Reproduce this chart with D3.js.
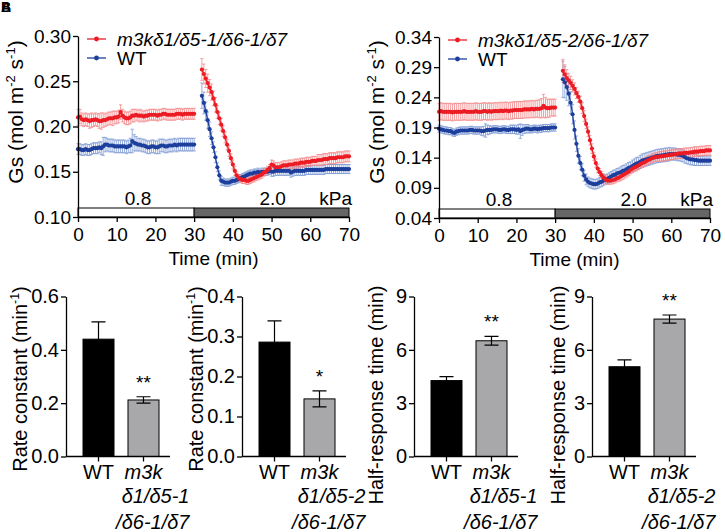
<!DOCTYPE html>
<html><head><meta charset="utf-8">
<script src="https://cdn.jsdelivr.net/npm/d3@7"></script>
<style>
body{margin:0;background:#fff;}
svg text{font-family:"Liberation Sans",Arial,Helvetica,sans-serif;fill:#000;}
</style></head>
<body><svg id="chart" width="725" height="532"></svg>
<script>
// ---------------- DATA ----------------
// sampling times (min): VPD 0.8 kPa phase and VPD 2.0 kPa phase (every 0.5 min)
const timesPre  = d3.range(0, 30.001, 0.5);   // 61 samples
const timesPost = d3.range(32, 70.001, 0.5);  // 77 samples
const timeTicks = [0, 10, 20, 30, 40, 50, 60, 70];
const kPaLabels = ["0.8", "2.0", "kPa"];

// Panel A (m3kδ1/δ5-1/δ6-1/δ7 vs WT), Gs in mol m-2 s-1
const A_mutPre = [
 0.210,0.211,0.208,0.207,0.208,0.207,0.206,0.207,0.207,0.208,
 0.207,0.206,0.206,0.207,0.207,0.208,0.209,0.209,0.209,0.210,
 0.210,0.211,0.216,0.212,0.210,0.209,0.209,0.210,0.212,0.212,
 0.213,0.212,0.212,0.212,0.211,0.212,0.212,0.213,0.213,0.213,
 0.213,0.212,0.213,0.213,0.214,0.214,0.213,0.213,0.213,0.213,
 0.213,0.214,0.214,0.214,0.213,0.214,0.214,0.214,0.214,0.214,
 0.214];
const A_mutPreErr = [
 .009,.008,.007,.007,.007,.007,.008,.008,.007,.007,
 .007,.008,.009,.008,.007,.007,.007,.007,.008,.007,
 .007,.007,.008,.007,.007,.007,.007,.007,.007,.007,
 .006,.006,.007,.006,.006,.006,.006,.006,.006,.006,
 .006,.006,.006,.006,.006,.006,.006,.006,.006,.006,
 .006,.006,.006,.006,.006,.006,.006,.006,.006,.006,
 .006];
const A_wtPre = [
 0.175,0.175,0.174,0.174,0.175,0.174,0.174,0.175,0.176,0.176,
 0.176,0.177,0.176,0.178,0.180,0.180,0.179,0.179,0.179,0.178,
 0.178,0.178,0.178,0.178,0.178,0.177,0.178,0.179,0.184,0.182,
 0.181,0.180,0.180,0.179,0.179,0.178,0.177,0.177,0.178,0.178,
 0.177,0.177,0.178,0.179,0.179,0.178,0.178,0.179,0.179,0.179,
 0.180,0.179,0.180,0.180,0.180,0.180,0.180,0.180,0.180,0.180,
 0.180];
const A_wtPreErr = [
 .006,.006,.006,.006,.006,.006,.006,.006,.006,.006,
 .006,.006,.007,.010,.008,.007,.007,.007,.007,.007,
 .007,.007,.007,.007,.007,.007,.007,.008,.013,.009,
 .008,.007,.007,.007,.007,.007,.007,.007,.007,.007,
 .007,.007,.008,.007,.007,.007,.007,.007,.007,.007,
 .007,.007,.007,.007,.007,.007,.007,.007,.007,.007,
 .007];
const A_mutPost = [
 0.263,0.258,0.253,0.248,0.243,0.238,0.231,0.224,0.216,0.209,
 0.202,0.195,0.188,0.180,0.173,0.165,0.158,0.151,0.146,0.143,
 0.142,0.141,0.141,0.140,0.140,0.141,0.142,0.143,0.144,0.145,
 0.146,0.147,0.149,0.150,0.152,0.154,0.158,0.157,0.155,0.155,
 0.155,0.156,0.157,0.157,0.157,0.158,0.158,0.158,0.159,0.159,
 0.159,0.160,0.160,0.160,0.161,0.161,0.161,0.162,0.162,0.162,
 0.163,0.163,0.163,0.164,0.164,0.164,0.165,0.165,0.165,0.165,
 0.166,0.166,0.166,0.166,0.167,0.167,
 0.167];
const A_mutPostErr = [
 .012,.011,.010,.010,.009,.009,.008,.008,.007,.007,
 .007,.006,.006,.006,.006,.005,.005,.005,.004,.004,
 .004,.004,.004,.004,.004,.004,.004,.004,.004,.004,
 .004,.004,.004,.004,.004,.004,.005,.005,.005,.005,
 .005,.005,.005,.005,.005,.005,.005,.005,.005,.005,
 .005,.005,.005,.005,.005,.005,.005,.005,.005,.005,
 .006,.006,.006,.006,.006,.006,.006,.006,.006,.006,
 .006,.006,.006,.006,.006,.006,
 .006];
const A_wtPost = [
 0.234,0.226,0.217,0.207,0.197,0.187,0.177,0.166,0.155,0.146,
 0.140,0.139,0.138,0.138,0.138,0.139,0.140,0.140,0.141,0.142,
 0.143,0.144,0.145,0.146,0.147,0.148,0.148,0.149,0.149,0.150,
 0.149,0.150,0.150,0.150,0.150,0.151,0.150,0.150,0.151,0.151,
 0.151,0.151,0.151,0.151,0.151,0.151,0.149,0.150,0.151,0.151,
 0.151,0.151,0.151,0.151,0.152,0.152,0.152,0.152,0.152,0.152,
 0.152,0.152,0.152,0.152,0.153,0.153,0.153,0.153,0.153,0.153,
 0.153,0.153,0.153,0.153,0.153,0.153,
 0.153];
const A_wtPostErr = [
 .014,.012,.010,.009,.008,.007,.006,.006,.005,.005,
 .005,.004,.004,.004,.004,.004,.004,.004,.004,.004,
 .004,.004,.004,.004,.004,.004,.004,.004,.004,.004,
 .004,.004,.004,.004,.004,.004,.005,.005,.005,.005,
 .005,.005,.005,.005,.005,.005,.005,.005,.005,.005,
 .005,.005,.005,.005,.005,.005,.005,.005,.005,.005,
 .005,.005,.005,.005,.005,.005,.005,.005,.005,.005,
 .005,.005,.005,.005,.005,.005,
 .005];

// Panel B (m3kδ1/δ5-2/δ6-1/δ7 vs WT)
const B_mutPre = [
 0.216,0.217,0.216,0.216,0.216,0.216,0.216,0.215,0.216,0.216,
 0.216,0.216,0.216,0.217,0.216,0.216,0.216,0.216,0.216,0.217,
 0.216,0.216,0.216,0.217,0.217,0.216,0.217,0.216,0.217,0.217,
 0.217,0.217,0.218,0.217,0.218,0.218,0.217,0.218,0.218,0.219,
 0.219,0.219,0.219,0.219,0.220,0.220,0.220,0.220,0.221,0.220,
 0.221,0.221,0.221,0.222,0.226,0.223,0.222,0.222,0.223,0.223,
 0.223];
const B_mutPreErr = [
 .014,.014,.014,.014,.014,.014,.014,.014,.014,.014,
 .014,.014,.014,.014,.014,.014,.014,.014,.014,.014,
 .014,.014,.014,.014,.014,.014,.014,.014,.014,.014,
 .014,.014,.014,.014,.014,.014,.014,.014,.014,.014,
 .014,.014,.014,.014,.014,.014,.014,.014,.014,.014,
 .014,.014,.015,.016,.019,.017,.015,.015,.014,.014,
 .014];
const B_wtPre = [
 0.188,0.187,0.186,0.185,0.185,0.184,0.184,0.182,0.181,0.183,
 0.184,0.185,0.185,0.185,0.185,0.185,0.186,0.186,0.185,0.185,
 0.185,0.185,0.184,0.184,0.185,0.186,0.186,0.186,0.187,0.187,
 0.187,0.186,0.186,0.187,0.187,0.186,0.186,0.187,0.187,0.187,
 0.186,0.187,0.184,0.186,0.187,0.188,0.188,0.187,0.187,0.188,
 0.188,0.187,0.188,0.188,0.189,0.189,0.189,0.189,0.190,0.190,
 0.190];
const B_wtPreErr = [
 .006,.006,.006,.006,.006,.006,.006,.006,.006,.006,
 .006,.006,.006,.006,.006,.006,.006,.006,.006,.006,
 .006,.006,.007,.008,.011,.008,.007,.006,.006,.006,
 .006,.006,.006,.006,.006,.006,.006,.007,.007,.007,
 .007,.008,.012,.009,.007,.007,.007,.006,.006,.006,
 .006,.006,.006,.006,.006,.006,.006,.006,.006,.006,
 .006];
const B_mutPost = [
 0.284,0.278,0.272,0.268,0.264,0.259,0.254,0.247,0.241,0.233,
 0.222,0.209,0.196,0.183,0.169,0.155,0.142,0.131,0.122,0.116,
 0.111,0.107,0.104,0.102,0.102,0.102,0.103,0.104,0.106,0.107,
 0.109,0.111,0.113,0.115,0.117,0.120,0.122,0.124,0.125,0.127,
 0.129,0.131,0.132,0.134,0.136,0.137,0.139,0.140,0.141,0.141,
 0.142,0.142,0.143,0.143,0.144,0.144,0.145,0.145,0.146,0.146,
 0.147,0.147,0.147,0.148,0.148,0.148,0.149,0.149,0.150,0.150,
 0.150,0.151,0.151,0.151,0.152,0.152,
 0.152];
const B_mutPostErr = [
 .019,.016,.014,.012,.011,.010,.010,.009,.009,.009,
 .009,.009,.008,.008,.008,.008,.007,.007,.007,.006,
 .006,.006,.006,.006,.006,.006,.006,.006,.006,.006,
 .007,.007,.007,.007,.007,.007,.007,.007,.007,.007,
 .007,.007,.007,.007,.007,.007,.007,.007,.007,.007,
 .008,.008,.008,.008,.008,.008,.008,.008,.008,.008,
 .008,.008,.008,.008,.008,.008,.008,.008,.008,.008,
 .008,.008,.008,.008,.008,.008,
 .008];
const B_wtPost = [
 0.270,0.265,0.257,0.246,0.231,0.212,0.186,0.163,0.143,0.131,
 0.120,0.110,0.104,0.100,0.098,0.097,0.096,0.096,0.097,0.099,
 0.100,0.102,0.104,0.105,0.107,0.109,0.111,0.112,0.114,0.115,
 0.116,0.118,0.119,0.121,0.123,0.124,0.126,0.128,0.130,0.131,
 0.133,0.135,0.136,0.137,0.138,0.139,0.140,0.141,0.142,0.143,
 0.143,0.144,0.144,0.145,0.145,0.146,0.146,0.146,0.146,0.145,
 0.145,0.144,0.143,0.141,0.139,0.138,0.137,0.137,0.136,0.136,
 0.135,0.135,0.135,0.135,0.135,0.135,
 0.135];
const B_wtPostErr = [
 .030,.026,.022,.020,.018,.016,.015,.013,.012,.011,
 .010,.009,.009,.008,.008,.008,.008,.008,.008,.008,
 .008,.008,.008,.008,.008,.008,.008,.008,.008,.008,
 .009,.009,.009,.009,.009,.009,.010,.010,.010,.010,
 .011,.011,.011,.011,.011,.011,.011,.011,.011,.011,
 .011,.011,.011,.011,.011,.011,.010,.010,.010,.010,
 .010,.010,.010,.010,.009,.009,.009,.009,.009,.009,
 .008,.008,.008,.008,.008,.008,
 .008];

const legendA = ["m3kδ1/δ5-1/δ6-1/δ7", "WT"];
const legendB = ["m3kδ1/δ5-2/δ6-1/δ7", "WT"];
const yTicksA = [0.10, 0.15, 0.20, 0.25, 0.30];
const yTicksB = [0.04, 0.09, 0.14, 0.19, 0.24, 0.29, 0.34];

// Bar panels C-F
const barCategories = ["WT", "m3k"];
const rateConst1 = [0.440, 0.212], rateConst1Err = [0.065, 0.012];
const rateConst2 = [0.286, 0.144], rateConst2Err = [0.053, 0.020];
const halfTime1  = [4.27, 6.51],   halfTime1Err  = [0.22, 0.25];
const halfTime2  = [5.05, 7.73],   halfTime2Err  = [0.38, 0.23];
const significance = ["**", "*", "**", "**"];
const mutantLines1 = ["δ1/δ5-1", "/δ6-1/δ7"];
const mutantLines2 = ["δ1/δ5-2", "/δ6-1/δ7"];
const rateTicks1 = [0, 0.2, 0.4, 0.6];
const rateTicks2 = [0, 0.1, 0.2, 0.3, 0.4];
const halfTicks  = [0, 3, 6, 9];

// ---------------- DRAWING ----------------
const svg = d3.select("#chart");
const RED = "#ec1c24", RED_ERR = "#f4898b";
const BLUE = "#1d3f9c", BLUE_ERR = "#7f9ad6";

function styleAxis(sel, fs) {
  sel.selectAll("path.domain").attr("stroke", "#000").attr("stroke-width", 1.3);
  sel.selectAll(".tick line").attr("stroke", "#000").attr("stroke-width", 1.3);
  sel.selectAll(".tick text").attr("fill", "#000").style("font-size", fs + "px")
     .style("font-family", '"Liberation Sans",Arial,sans-serif');
}

function supLabel(g, x, y, parts, fs) {
  const t = g.append("text").attr("transform", `translate(${x},${y}) rotate(-90)`)
    .attr("text-anchor", "middle").style("font-size", fs + "px");
  let sup = false;
  parts.forEach(([s, isSup]) => {
    const ts = t.append("tspan").text(s);
    if (isSup && !sup) { ts.attr("dy", -fs * 0.38).style("font-size", (fs * 0.62) + "px"); sup = true; }
    else if (isSup) { ts.style("font-size", (fs * 0.62) + "px"); }
    else if (!isSup && sup) { ts.attr("dy", fs * 0.38); sup = false; }
  });
  return t;
}

function timePanel(p) {
  const x = d3.scaleLinear().domain([0, 70]).range([p.x0, p.x1]);
  const y = d3.scaleLinear().domain(p.yDomain).range([p.yBot, p.yTop]);
  const g = svg.append("g");
  const barH = 9;
  g.append("rect").attr("x", x(0)).attr("y", p.yBot - barH).attr("width", x(30) - x(0)).attr("height", barH)
    .attr("fill", "#fff").attr("stroke", "#000").attr("stroke-width", 1);
  g.append("rect").attr("x", x(30)).attr("y", p.yBot - barH).attr("width", x(70) - x(30)).attr("height", barH)
    .attr("fill", "#666").attr("stroke", "#000").attr("stroke-width", 1);
  g.append("text").attr("x", x(15.5)).attr("y", p.yBot - 12).attr("text-anchor", "middle").style("font-size", "19px").text(kPaLabels[0]);
  g.append("text").attr("x", x(50.3)).attr("y", p.yBot - 12).attr("text-anchor", "middle").style("font-size", "19px").text(kPaLabels[1]);
  g.append("text").attr("x", x(70) + 3).attr("y", p.yBot - 12).attr("text-anchor", "end").style("font-size", "19px").text(kPaLabels[2]);

  const line = d3.line().x(d => x(d.t)).y(d => y(d.v));
  const segs = s => [[timesPre, s.pre, s.preErr], [timesPost, s.post, s.postErr]]
    .map(([t, v, e]) => t.map((tt, i) => ({ t: tt, v: v[i], e: e[i] })));
  p.series.forEach(s => {
    segs(s).forEach(pts => {
      g.append("g").selectAll("path").data(pts).join("path")
        .attr("d", d => {
          const xx = x(d.t), y1 = y(d.v + d.e), y2 = y(d.v - d.e);
          return `M${xx},${y1}V${y2}M${xx - 1.6},${y1}H${xx + 1.6}M${xx - 1.6},${y2}H${xx + 1.6}`;
        })
        .attr("fill", "none").attr("stroke", s.errColor).attr("stroke-width", 0.8);
    });
  });
  p.series.forEach(s => {
    segs(s).forEach(pts => {
      g.append("path").datum(pts).attr("d", line).attr("fill", "none").attr("stroke", s.color).attr("stroke-width", 1.3);
      g.append("g").selectAll("circle").data(pts).join("circle")
        .attr("cx", d => x(d.t)).attr("cy", d => y(d.v)).attr("r", 2.1).attr("fill", s.color);
    });
  });

  const ya = g.append("g").attr("transform", `translate(${p.x0},0)`)
    .call(d3.axisLeft(y).tickValues(p.yTicks).tickFormat(d3.format(".2f")).tickSize(5).tickSizeOuter(0).tickPadding(2));
  styleAxis(ya, 19);
  const xa = g.append("g").attr("transform", `translate(0,${p.yBot})`)
    .call(d3.axisBottom(x).tickValues(timeTicks).tickSize(5).tickSizeOuter(0).tickPadding(6));
  styleAxis(xa, 19);
  g.append("text").attr("x", (p.x0 + p.x1) / 2).attr("y", p.yBot + 48).attr("text-anchor", "middle")
    .style("font-size", "19px").text("Time (min)");
  supLabel(g, p.x0 - 55, 112, [["Gs (mol m", false], ["-2", true], [" s", false], ["-1", true], [")", false]], 21);

  const leg = [{ c: RED, lab: p.legend[0], it: true, dy: 3 }, { c: BLUE, lab: p.legend[1], it: false, dy: 22 }];
  leg.forEach(l => {
    const ly = p.yTop + l.dy;
    g.append("line").attr("x1", p.x0 + 9).attr("x2", p.x0 + 28).attr("y1", ly).attr("y2", ly).attr("stroke", l.c).attr("stroke-width", 1.3);
    g.append("circle").attr("cx", p.x0 + 18.5).attr("cy", ly).attr("r", 2.4).attr("fill", l.c);
    g.append("text").attr("x", p.x0 + 39).attr("y", ly + 6.5).style("font-size", "19px")
      .style("font-style", l.it ? "italic" : "normal").text(l.lab);
  });
}

timePanel({ x0: 78, x1: 349, yTop: 36, yBot: 217, yDomain: [0.10, 0.30], yTicks: yTicksA, legend: legendA,
  series: [
    { pre: A_wtPre, preErr: A_wtPreErr, post: A_wtPost, postErr: A_wtPostErr, color: BLUE, errColor: BLUE_ERR },
    { pre: A_mutPre, preErr: A_mutPreErr, post: A_mutPost, postErr: A_mutPostErr, color: RED, errColor: RED_ERR }
  ] });
timePanel({ x0: 439, x1: 710, yTop: 37, yBot: 218, yDomain: [0.04, 0.34], yTicks: yTicksB, legend: legendB,
  series: [
    { pre: B_wtPre, preErr: B_wtPreErr, post: B_wtPost, postErr: B_wtPostErr, color: BLUE, errColor: BLUE_ERR },
    { pre: B_mutPre, preErr: B_mutPreErr, post: B_mutPost, postErr: B_mutPostErr, color: RED, errColor: RED_ERR }
  ] });

function barPanel(p) {
  const yTop = 296.5, yBot = 456.5;
  const y = d3.scaleLinear().domain([0, p.max]).range([yBot, yTop]);
  const xb = d3.scaleBand().domain(barCategories).range([p.axis + 17, p.axis + 93]).paddingInner(0.311).paddingOuter(0);
  const g = svg.append("g");
  const data = barCategories.map((c, i) => ({ c, v: p.vals[i], e: p.errs[i] }));
  g.selectAll("rect.bar").data(data).join("rect").attr("class", "bar")
    .attr("x", d => xb(d.c)).attr("width", xb.bandwidth())
    .attr("y", d => y(d.v)).attr("height", d => yBot - y(d.v))
    .attr("fill", (d, i) => i === 0 ? "#000" : "#a8a8aa").attr("stroke", "#000").attr("stroke-width", 1);
  g.selectAll("path.err").data(data).join("path").attr("class", "err")
    .attr("d", d => {
      const cx = xb(d.c) + xb.bandwidth() / 2, y1 = y(d.v + d.e), y2 = y(d.v - d.e);
      return `M${cx},${y1}V${y2}M${cx - 7},${y1}H${cx + 7}M${cx - 7},${y2}H${cx + 7}`;
    })
    .attr("fill", "none").attr("stroke", "#000").attr("stroke-width", 1.2);
  const m = data[1];
  g.append("text").attr("x", xb(m.c) + xb.bandwidth() / 2).attr("y", y(m.v + m.e) - 8)
    .attr("text-anchor", "middle").style("font-size", "19px").text(p.sig);
  const ya = g.append("g").attr("transform", `translate(${p.axis},0)`)
    .call(d3.axisLeft(y).tickValues(p.ticks).tickFormat(p.fmt).tickSize(5).tickSizeOuter(0).tickPadding(2));
  styleAxis(ya, 20);
  const xa = g.append("g").attr("transform", `translate(0,${yBot})`)
    .call(d3.axisBottom(xb).tickSize(5).tickSizeOuter(0).tickPadding(3));
  xa.select("path.domain").attr("d", `M${p.axis},0H${p.axis + 104}`);
  styleAxis(xa, 20);
  xa.selectAll(".tick text").style("font-style", d => d === "m3k" ? "italic" : "normal");
  const mc = xb("m3k") + xb.bandwidth() / 2;
  p.lines.forEach((ln, i) => {
    g.append("text").attr("x", mc + 46).attr("y", 503 + i * 26).attr("text-anchor", "end")
      .style("font-size", "20px").style("font-style", "italic").text(ln);
  });
  if (p.title === "rate") {
    supLabel(g, p.titleX, 379, [["Rate constant (min", false], ["-1", true], [")", false]], 20);
  } else {
    supLabel(g, p.titleX, 395, [["Half-response time (min)", false]], 20);
  }
}

barPanel({ axis: 66, max: 0.6, ticks: rateTicks1, fmt: d3.format(".1f"), vals: rateConst1, errs: rateConst1Err, sig: significance[0], lines: mutantLines1, title: "rate", titleX: 27 });
barPanel({ axis: 242, max: 0.4, ticks: rateTicks2, fmt: d3.format(".1f"), vals: rateConst2, errs: rateConst2Err, sig: significance[1], lines: mutantLines2, title: "rate", titleX: 203 });
barPanel({ axis: 414, max: 9, ticks: halfTicks, fmt: d3.format("d"), vals: halfTime1, errs: halfTime1Err, sig: significance[2], lines: mutantLines1, title: "half", titleX: 383 });
barPanel({ axis: 592, max: 9, ticks: halfTicks, fmt: d3.format("d"), vals: halfTime2, errs: halfTime2Err, sig: significance[3], lines: mutantLines2, title: "half", titleX: 565 });

svg.append("text").attr("x", 1).attr("y", 12).style("font-size", "14px").style("font-weight", "bold").text("A");
svg.append("text").attr("x", 1).attr("y", 12).style("font-size", "14px").style("font-weight", "bold").text("B");
</script>
</body></html>
